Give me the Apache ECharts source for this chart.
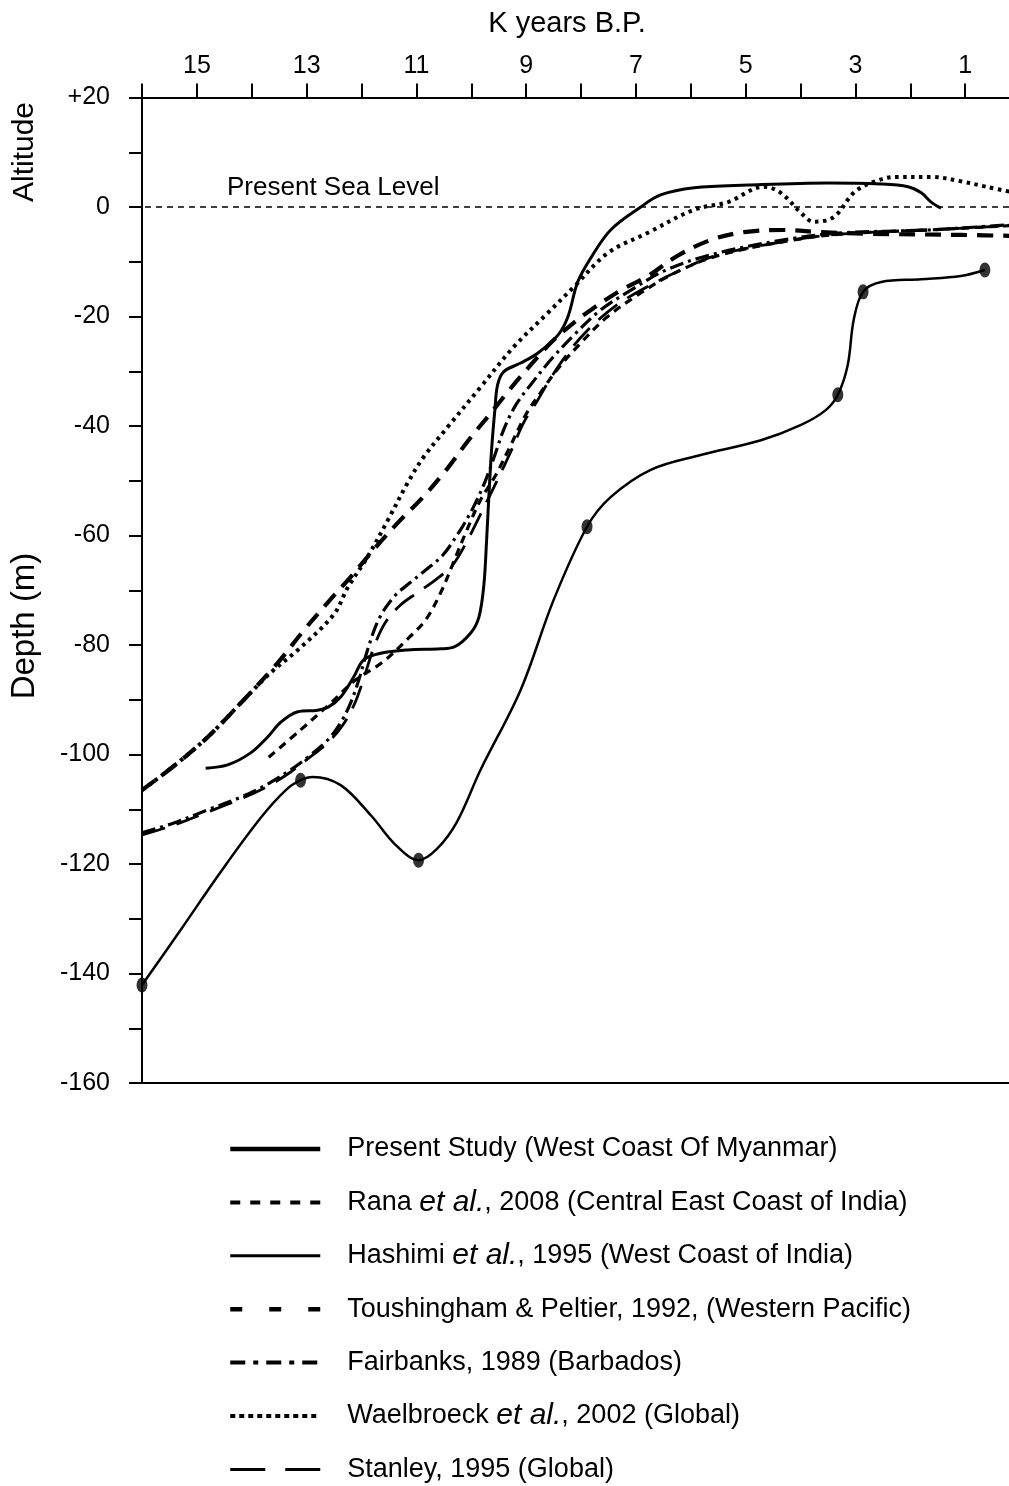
<!DOCTYPE html>
<html><head><meta charset="utf-8">
<script src="https://cdn.jsdelivr.net/npm/echarts@6/dist/echarts.min.js"></script>
<style>html,body{margin:0;padding:0;background:#fff}#c{width:1009px;height:1486px}</style>
</head><body><div id="c"></div>
<script>
const FONT = '"Liberation Sans", Arial, sans-serif';

// Present Study (West Coast Of Myanmar) - curve and dated points
const presentAge   = [16.0,15.30,14.57,13.84,13.38,13.11,12.89,12.38,11.83,11.38,10.96,10.63,10.26,9.83,9.10,8.50,7.89,7.46,6.73,5.82,4.72,3.99,3.54,3.32,3.14,3.03,2.86,2.53,1.80,1.08,0.64];
const presentDepth = [-142.1,-132.1,-121.5,-111.6,-106.5,-104.7,-104.1,-105.6,-111.1,-116.5,-119.3,-117.3,-112.3,-102.8,-88.2,-71.8,-58.4,-53.0,-48.0,-45.3,-42.6,-39.8,-37.1,-34.3,-28.9,-20.6,-15.5,-13.7,-13.2,-12.6,-11.5];
const datedAge   = [16.0,13.11,10.96,7.89,3.32,2.86,0.64];
const datedDepth = [-142.1,-104.7,-119.3,-58.4,-34.3,-15.5,-11.5];

// Rana et al., 2008
const ranaAge   = [13.69,13.11,12.56,12.11,11.61,11.14,10.83,10.56,10.32,10.08,9.83,9.55,9.28,9.01,8.73,8.41,8.00,7.55,7.00,6.36,5.51,4.12,3.21,1.68,0];
const ranaDepth = [-100.5,-95.5,-90.6,-86.4,-83.1,-78.7,-75.4,-70.5,-64.8,-59.0,-53.5,-48.9,-43.5,-38.0,-33.8,-29.4,-24.8,-20.3,-16.3,-12.4,-8.9,-6.0,-4.9,-4.2,-3.3];

// Hashimi et al., 1995
const hashimiAge   = [14.84,14.44,14.02,13.71,13.47,13.16,12.80,12.60,12.38,12.14,11.96,11.65,11.16,10.56,10.32,10.01,9.86,9.77,9.72,9.68,9.63,9.57,9.52,9.41,9.10,8.79,8.42,8.24,8.06,7.82,7.46,6.91,6.55,5.94,4.96,3.50,2.53,2.04,1.80,1.62,1.44];
const hashimiDepth = [-102.5,-101.9,-99.7,-96.8,-94.1,-92.2,-91.9,-91.3,-89.5,-85.8,-82.7,-81.5,-80.9,-80.7,-80.4,-77.8,-74.9,-69.0,-60.8,-53.0,-44.4,-37.1,-32.5,-30.1,-28.5,-26.7,-23.4,-20.1,-13.7,-9.3,-4.2,0,2.2,3.5,4.0,4.4,4.2,3.7,2.6,0.9,-0.2];

// Toushingham & Peltier, 1992
const toushAge   = [16.0,15.42,14.80,14.20,13.53,13.05,12.62,12.20,11.78,11.34,10.88,10.43,10.05,9.64,9.28,8.92,8.55,8.19,7.82,7.27,6.78,6.24,5.63,5.03,4.32,3.63,2.72,1.08,0];
const toushDepth = [-106.5,-102.1,-96.8,-90.6,-83.3,-77.3,-72.3,-67.6,-62.6,-57.7,-53.0,-47.7,-42.6,-37.6,-33.1,-28.9,-24.8,-21.6,-18.8,-15.2,-12.6,-8.9,-6.0,-4.6,-4.2,-4.6,-4.9,-5.1,-5.3];

// Fairbanks, 1989
const fairAge   = [16.0,15.42,14.80,14.20,13.71,13.29,12.98,12.62,12.38,12.20,12.05,11.89,11.69,11.41,11.10,10.83,10.52,10.23,9.97,9.75,9.57,9.41,9.19,8.92,8.55,8.13,7.64,7.09,6.45,5.51,4.12,3.21,1.68,0];
const fairDepth = [-114.3,-112.5,-110.1,-107.8,-105.4,-102.8,-100.5,-97.4,-94.2,-90.6,-86.4,-80.9,-75.4,-71.2,-68.5,-66.3,-63.6,-59.5,-55.0,-50.2,-45.3,-40.7,-36.2,-32.5,-27.9,-23.4,-18.8,-15.2,-11.5,-8.4,-5.7,-4.7,-4.2,-3.1];

// Waelbroeck et al., 2002
const waelAge   = [16.0,15.42,14.80,14.20,13.66,13.16,12.51,12.25,11.89,11.52,11.16,10.87,10.43,9.83,9.23,8.61,8.13,7.51,6.78,5.94,5.32,4.67,4.36,3.99,3.76,3.39,3.03,2.72,2.26,1.62,1.08,0.62,0];
const waelDepth = [-106.5,-102.1,-96.8,-90.6,-85.1,-80.9,-74.5,-69.5,-63.9,-57.2,-50.4,-45.7,-40.2,-32.9,-25.6,-19.4,-14.6,-8.4,-4.7,-0.5,0.9,3.7,2.6,-1.1,-2.7,-1.8,2.6,4.4,5.5,5.5,4.7,3.7,2.4];

// Stanley, 1995
const stanAge   = [16.0,15.42,14.80,14.20,13.71,13.29,12.98,12.62,12.34,12.12,11.94,11.76,11.56,11.29,10.96,10.65,10.34,10.05,9.79,9.54,9.28,9.04,8.79,8.55,8.24,7.88,7.40,6.91,6.18,5.51,4.12,3.21,1.68,0];
const stanDepth = [-114.7,-112.9,-110.5,-108.1,-105.8,-103.2,-100.8,-97.9,-94.6,-90.6,-85.5,-80.0,-75.8,-72.7,-70.3,-68.1,-65.4,-60.5,-55.3,-50.2,-44.7,-39.3,-35.3,-31.2,-26.7,-22.5,-18.3,-15.2,-11.5,-8.8,-6.0,-4.9,-4.2,-3.3];

const names = [
  'Present Study (West Coast Of Myanmar)',
  'Rana et al., 2008 (Central East Coast of India)',
  'Hashimi et al., 1995 (West Coast of India)',
  'Toushingham & Peltier, 1992, (Western Pacific)',
  'Fairbanks, 1989 (Barbados)',
  'Waelbroeck et al., 2002 (Global)',
  'Stanley, 1995 (Global)'
];

const zip = (a, b) => a.map((v, i) => [v, b[i]]);

const styles = [
  {type: 'solid', width: 2.5, legendType: 'solid', legendWidth: 4.5},
  {type: [8, 6], width: 3.2, legendType: [10, 10], legendWidth: 4},
  {type: 'solid', width: 3, legendType: 'solid', legendWidth: 3},
  {type: [16, 10], width: 4.2, legendType: [12, 27], legendWidth: 4.5},
  {type: [14, 5, 3, 5], width: 3.2, legendType: [15, 8, 5, 8], legendWidth: 4},
  {type: [3.5, 4.5], width: 4, legendType: [5, 4], legendWidth: 4},
  {type: [24, 12], width: 2.8, legendType: [35, 20], legendWidth: 3}
];
const datasets = [
  zip(presentAge, presentDepth), zip(ranaAge, ranaDepth), zip(hashimiAge, hashimiDepth),
  zip(toushAge, toushDepth), zip(fairAge, fairDepth), zip(waelAge, waelDepth), zip(stanAge, stanDepth)
];

const series = names.map((n, i) => ({
  name: n, type: 'line', data: datasets[i], symbol: 'none', smooth: 0.35,
  lineStyle: {color: '#000', width: styles[i].width, type: styles[i].type},
  itemStyle: {color: '#000'}, z: 3
}));
series.push({
  name: 'dated', type: 'scatter', data: zip(datedAge, datedDepth),
  symbol: 'circle', symbolSize: [11, 15], itemStyle: {color: '#000'}, z: 5,
  markLine: {
    silent: true, symbol: 'none', animation: false,
    lineStyle: {color: '#000', type: [6, 5], width: 1.5},
    label: {show: true, position: 'insideEndTop', formatter: 'Present Sea Level',
      color: '#000', fontSize: 26, fontFamily: FONT, distance: [85, 6]},
    data: [{yAxis: 0}]
  }
});

const chart = echarts.init(document.getElementById('c'), null, {renderer: 'canvas'});
chart.setOption({
  animation: false,
  backgroundColor: '#fff',
  grid: {left: 142, top: 97.5, right: -11, bottom: 403, outerBoundsMode: 'none', containLabel: false},
  xAxis: [{
    type: 'value', position: 'top', min: 0, max: 16, interval: 1, inverse: true,
    name: 'K years B.P.', nameLocation: 'middle', nameGap: 59,
    nameTextStyle: {fontSize: 29, color: '#000', fontFamily: FONT, padding: [0, 28, 0, 0]},
    axisLine: {show: true, onZero: false, lineStyle: {color: '#000', width: 2}},
    axisTick: {show: true, inside: false, length: 14, lineStyle: {color: '#000', width: 2}},
    axisLabel: {show: true, margin: 19, fontSize: 25, color: '#000', fontFamily: FONT,
      formatter: v => (Math.round(v) % 2 === 1 ? String(v) : '')},
    splitLine: {show: false}
  }, {
    type: 'value', position: 'bottom', min: 0, max: 16, inverse: true,
    axisLine: {show: true, onZero: false, lineStyle: {color: '#000', width: 2}},
    axisTick: {show: false}, axisLabel: {show: false}, splitLine: {show: false}
  }],
  yAxis: {
    type: 'value', min: -160, max: 20, interval: 10,
    axisLine: {show: true, onZero: false, lineStyle: {color: '#000', width: 2}},
    axisTick: {show: true, inside: false, length: 13, lineStyle: {color: '#000', width: 2}},
    axisLabel: {show: true, margin: 32, fontSize: 25, color: '#000', fontFamily: FONT,
      formatter: v => (v % 20 === 0 ? (v > 0 ? '+' + v : String(v)) : '')},
    splitLine: {show: false}
  },
  legend: {
    orient: 'vertical', left: 228, top: 1134, padding: 0, itemWidth: 90, itemHeight: 14, itemGap: 23.4,
    selectedMode: false,
    itemStyle: {color: 'rgba(0,0,0,0)', borderColor: 'rgba(0,0,0,0)', borderWidth: 0},
    textStyle: {fontFamily: FONT, fontSize: 27, color: '#000', padding: [0, 0, 0, 22], lineHeight: 30,
      rich: {i: {fontStyle: 'italic', fontSize: 30, fontFamily: FONT, color: '#000', lineHeight: 30}}},
    formatter: n => n.replace('et al.', '{i|et al.}'),
    data: names.map((n, i) => ({name: n,
      itemStyle: {color: 'rgba(0,0,0,0)', borderColor: 'rgba(0,0,0,0)', borderWidth: 0},
      lineStyle: {color: '#000', width: styles[i].legendWidth, type: styles[i].legendType}}))
  },
  graphic: [
    {type: 'text', x: 25, y: 152, rotation: Math.PI / 2,
      style: {text: 'Altitude', fontSize: 30, fontFamily: FONT, fill: '#000', align: 'center', verticalAlign: 'middle'}},
    {type: 'text', x: 25, y: 626, rotation: Math.PI / 2,
      style: {text: 'Depth (m)', fontSize: 33, fontFamily: FONT, fill: '#000', align: 'center', verticalAlign: 'middle'}}
  ],
  series: series
});
</script></body></html>
